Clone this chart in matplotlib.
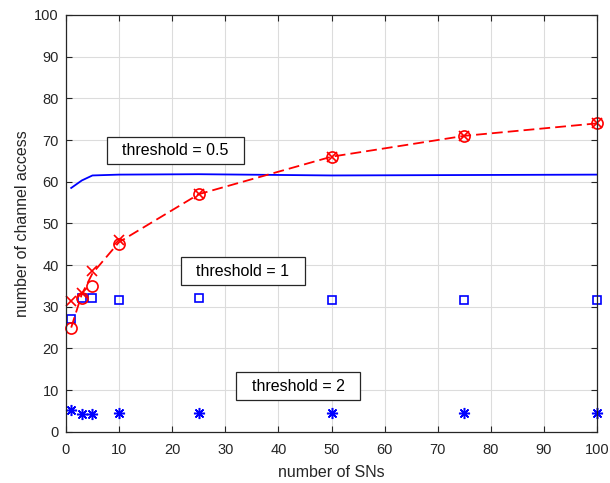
import matplotlib
matplotlib.use("Agg")
import matplotlib.pyplot as plt

# --- data ---
sns_count = [1, 3, 5, 10, 25, 50, 75, 100]

# threshold = 0.5 (blue solid line)
thr05 = [58.5, 60.3, 61.5, 61.7, 61.8, 61.5, 61.6, 61.7]
# threshold = 1 (blue squares)
thr1 = [27.0, 32.0, 32.2, 31.7, 32.0, 31.7, 31.7, 31.7]
# threshold = 2 (blue stars)
thr2 = [5.2, 4.3, 4.3, 4.6, 4.6, 4.6, 4.6, 4.6]

# red series
red_x = [31.5, 33.2, 38.5, 46.0, 57.0, 66.0, 71.0, 74.0]
red_o = [25.0, 32.0, 35.0, 45.0, 57.0, 66.0, 71.0, 74.0]
red_line = [25.0, 33.0, 38.0, 45.5, 57.0, 66.0, 71.0, 74.0]

plt.rcParams["font.family"] = ["Liberation Sans", "DejaVu Sans"]
dark = "#262626"

fig = plt.figure(figsize=(6.1, 4.83), dpi=100)
ax = fig.add_axes([0.108, 0.106, 0.871, 0.863])

ax.plot(sns_count, thr05, color="#0000ff", lw=1.3)
ax.plot(sns_count, thr1, ls="none", marker="s", ms=6, mfc="none", mec="#0000ff",
        mew=1.2, clip_on=False)
ax.plot(sns_count, thr2, ls="none", marker=(8, 2, 0), ms=8, color="#0000ff",
        mew=1.1, clip_on=False)

ax.plot(sns_count, red_line, color="#ff0000", ls=(0, (6, 2.8)), lw=1.3)
ax.plot(sns_count, red_x, ls="none", marker="x", ms=7, color="#ff0000", mew=1.2,
        clip_on=False)
ax.plot(sns_count, red_o, ls="none", marker="o", ms=8, mfc="none", mec="#ff0000",
        mew=1.2, clip_on=False)

box = dict(boxstyle="square,pad=0.4", fc="white", ec=dark, lw=0.9)
ax.text(20.6, 67.5, "  threshold = 0.5  ", fontsize=11.5, ha="center", va="center",
        bbox=box, color="black")
ax.text(33.3, 38.5, "  threshold = 1  ", fontsize=11.5, ha="center", va="center",
        bbox=box, color="black")
ax.text(43.7, 10.9, "  threshold = 2  ", fontsize=11.5, ha="center", va="center",
        bbox=box, color="black")

ax.set_xlim(0, 100)
ax.set_ylim(0, 100)
ax.set_xticks(range(0, 101, 10))
ax.set_yticks(range(0, 101, 10))
ax.grid(True, color="#dcdcdc", lw=0.8)
ax.set_axisbelow(True)
ax.tick_params(direction="in", top=True, right=True, length=4, width=0.8,
               colors=dark, labelsize=10.5)
ax.tick_params(axis="x", pad=8)
ax.tick_params(axis="y", pad=5)
for s in ax.spines.values():
    s.set_color(dark)
    s.set_linewidth(0.9)

ax.set_xlabel("number of SNs", fontsize=11.5, color=dark, labelpad=6)
ax.set_ylabel("number of channel access", fontsize=11.5, color=dark, labelpad=3)

fig.savefig("out.png", dpi=100)
